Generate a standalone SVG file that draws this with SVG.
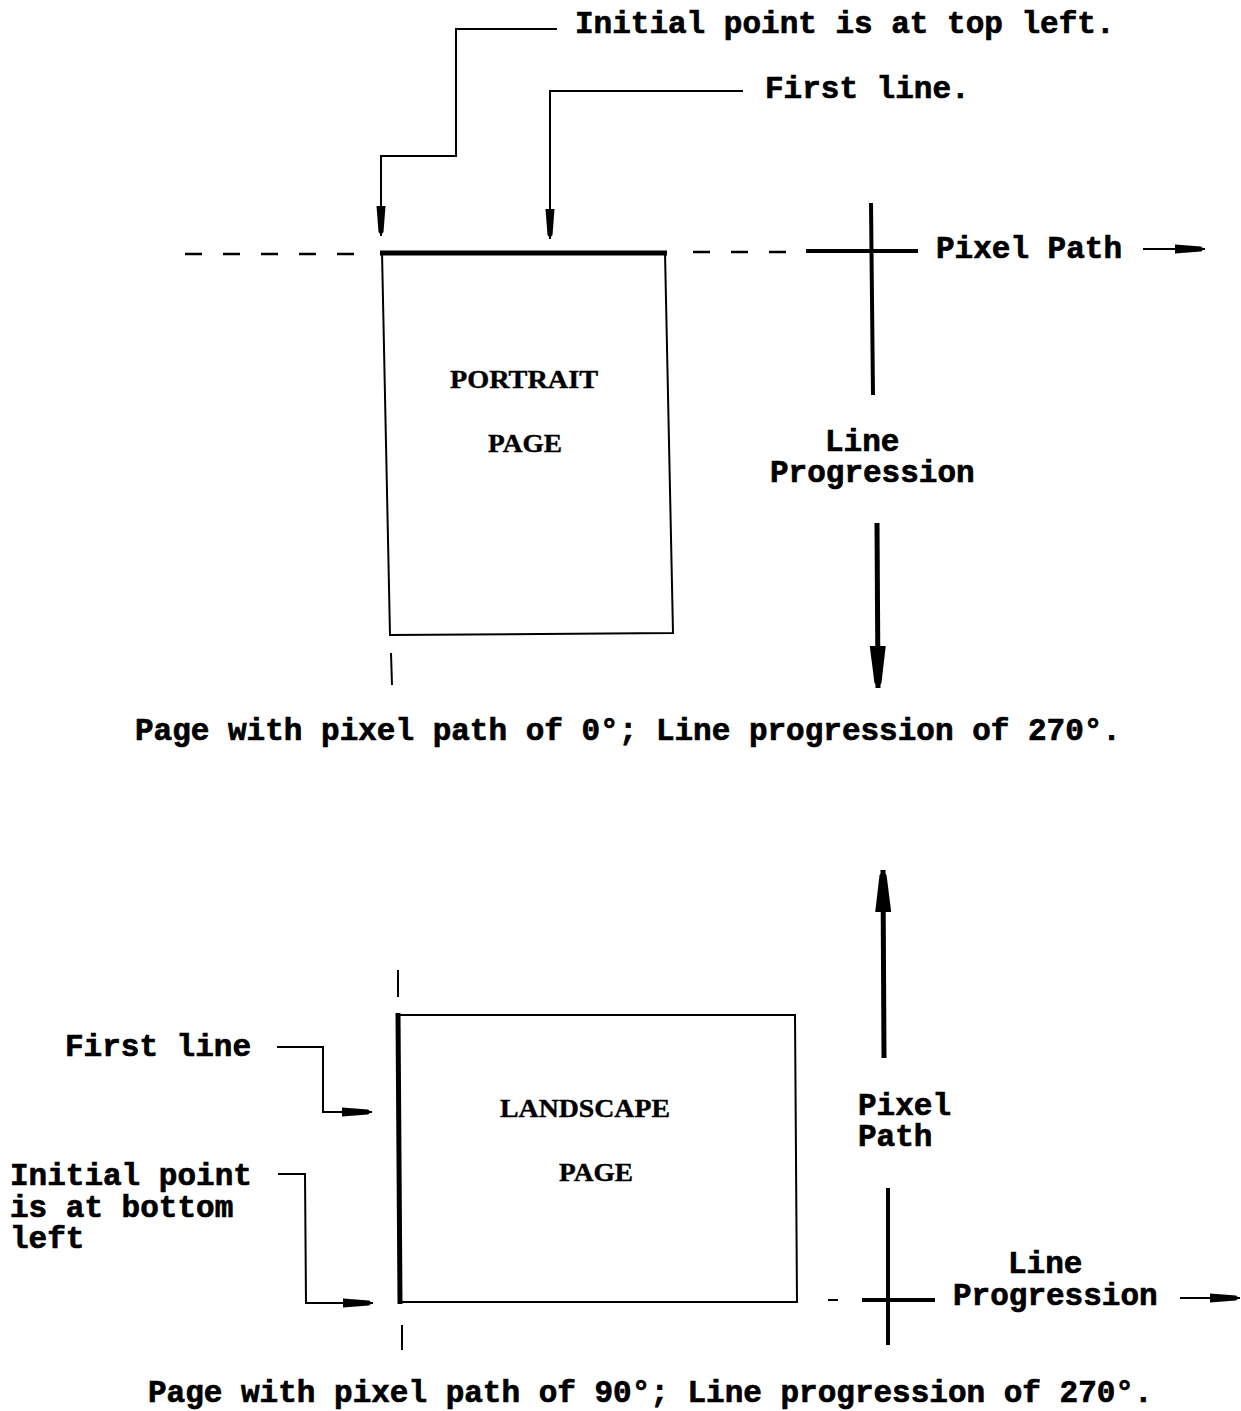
<svg xmlns="http://www.w3.org/2000/svg" width="1241" height="1411" viewBox="0 0 1241 1411">
<style>
.t{font-family:"Liberation Mono","DejaVu Sans Mono",monospace;font-weight:bold;font-size:31px;fill:#000;stroke:#000;stroke-width:0.7}
.p{font-family:"Liberation Serif","DejaVu Serif",serif;font-weight:bold;font-size:26px;fill:#000;stroke:#000;stroke-width:0.4}
.ln{fill:none;stroke:#000;stroke-width:2}
.thick{fill:none;stroke:#000;stroke-width:5}
.cross{fill:none;stroke:#000;stroke-width:4}
.dash{fill:none;stroke:#000;stroke-width:2.5;stroke-dasharray:17 21}
</style>
<defs>
<marker id="aS" markerUnits="userSpaceOnUse" markerWidth="36" markerHeight="14" viewBox="-32 -7 36 14" refX="0" refY="0" orient="auto">
<path d="M-30,-4.5 L-4,-2.5 Q0,0 -4,2.5 L-30,4.5 Z" fill="#000"/>
</marker>
<marker id="aB" markerUnits="userSpaceOnUse" markerWidth="46" markerHeight="20" viewBox="-44 -10 46 20" refX="0" refY="0" orient="auto">
<path d="M-42,-8 L-5,-3.5 Q0,0 -5,3.5 L-42,8 Z" fill="#000"/>
</marker>
</defs>
<rect width="1241" height="1411" fill="#fff"/>

<g id="portrait-page">
<path class="ln" d="M382,252 L665,252 L673,633 L390,635 Z"/>
<path class="thick" d="M380,253 L667,253"/>
<text class="p" x="524" y="388" text-anchor="middle" textLength="148" lengthAdjust="spacingAndGlyphs">PORTRAIT</text>
<text class="p" x="525" y="452" text-anchor="middle" textLength="74" lengthAdjust="spacingAndGlyphs">PAGE</text>
</g>

<g id="landscape-page">
<path class="ln" d="M398,1015 L795,1015 L797,1302 L400,1302 Z"/>
<path class="thick" d="M398,1013 L400,1304"/>
<text class="p" x="585" y="1117" text-anchor="middle" textLength="170" lengthAdjust="spacingAndGlyphs">LANDSCAPE</text>
<text class="p" x="596" y="1181" text-anchor="middle" textLength="74" lengthAdjust="spacingAndGlyphs">PAGE</text>
</g>

<g id="labels">
<text class="t" x="575" y="33">Initial point is at top left.</text>
<text class="t" x="765" y="98">First line.</text>
<text class="t" x="936" y="258">Pixel Path</text>
<text class="t" x="825" y="451">Line</text>
<text class="t" x="770" y="482">Progression</text>
<text class="t" x="135" y="740">Page with pixel path of 0°; Line progression of 270°.</text>
<text class="t" x="65" y="1056">First line</text>
<text class="t" x="10" y="1185">Initial point</text>
<text class="t" x="10" y="1217">is at bottom</text>
<text class="t" x="10" y="1248">left</text>
<text class="t" x="858" y="1115">Pixel</text>
<text class="t" x="858" y="1146">Path</text>
<text class="t" x="1008" y="1273">Line</text>
<text class="t" x="953" y="1305">Progression</text>
<text class="t" x="148" y="1402">Page with pixel path of 90°; Line progression of 270°.</text>
</g>

<g id="connectors">
<path class="ln" d="M557,29 L456,29 L456,156 L381,156 L381,236" marker-end="url(#aS)"/>
<path class="ln" d="M743,91 L550,91 L550,239" marker-end="url(#aS)"/>
<path class="dash" d="M185,254 L375,254"/>
<path class="dash" d="M693,252 L800,252"/>
<path class="cross" d="M806,251 L918,251"/>
<path class="cross" d="M871,203 L873,395"/>
<path class="ln" d="M1143,249 L1205,249" marker-end="url(#aS)"/>
<path class="thick" d="M877,523 L878,688" marker-end="url(#aB)"/>
<path class="ln" d="M391,653 L392,685"/>
<path class="thick" d="M884,1058 L883,870" marker-end="url(#aB)"/>
<path class="ln" d="M398,970 L398,997"/>
<path class="ln" d="M402,1325 L402,1350"/>
<path class="ln" d="M277,1047 L323,1047 L323,1112 L372,1112" marker-end="url(#aS)"/>
<path class="ln" d="M278,1174 L305,1174 L306,1303 L373,1303" marker-end="url(#aS)"/>
<path class="ln" d="M828,1300 L838,1300"/>
<path class="cross" d="M862,1300 L935,1300"/>
<path class="cross" d="M888,1188 L888,1345"/>
<path class="ln" d="M1180,1298 L1240,1298" marker-end="url(#aS)"/>
</g>
</svg>
